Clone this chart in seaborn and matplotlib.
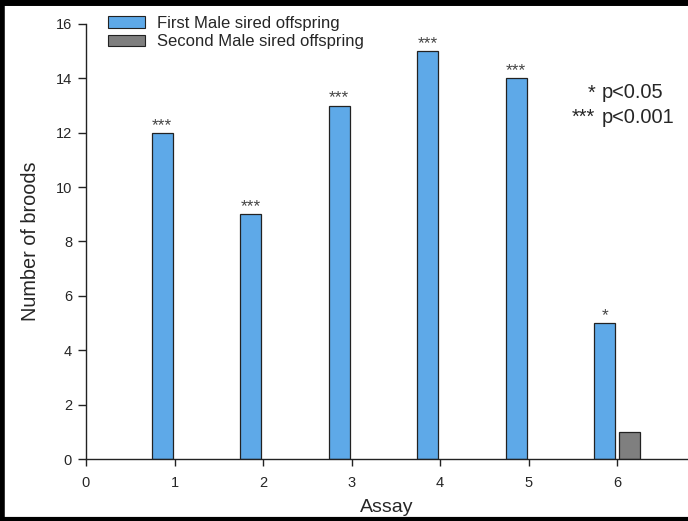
import matplotlib
matplotlib.use("Agg")
import matplotlib.pyplot as plt
import seaborn as sns
import pandas as pd
from matplotlib.patches import Rectangle

assays = [1, 2, 3, 4, 5, 6]
first_male = [12, 9, 13, 15, 14, 5]
second_male = [0, 0, 0, 0, 0, 1]
stars = ["***", "***", "***", "***", "***", "*"]
series = ["First Male sired offspring", "Second Male sired offspring"]
colors = ["#5EA9E8", "#7F7F7F"]
key_stars = ["*", "***"]
key_text = ["p<0.05", "p<0.001"]

rows = []
for a, v in zip(assays, first_male):
    rows.append({"Assay": a, "Broods": v, "Sire": series[0]})
for a, v in zip(assays, second_male):
    if v > 0:
        rows.append({"Assay": a, "Broods": v, "Sire": series[1]})
df = pd.DataFrame(rows)

sns.set_style("ticks")
plt.rcParams["font.family"] = ["Liberation Sans", "DejaVu Sans"]

fig = plt.figure(figsize=(6.88, 5.21), dpi=100)
ax = fig.add_axes([0.125, 0.119, 0.875, 0.835])

sns.barplot(data=df, x="Assay", y="Broods", hue="Sire", hue_order=series,
            palette=colors, native_scale=True, width=0.56, gap=0.16,
            edgecolor="#222222", linewidth=0.9, saturation=1, ax=ax,
            dodge=True)

ax.set_xlim(0, 6.8)
ax.set_ylim(0, 16)
ax.set_xticks([0, 1, 2, 3, 4, 5, 6])
ax.set_xticklabels(["0", "1", "2", "3", "4", "5", "6"])
ax.set_yticks(range(0, 17, 2))
for s in ["top", "right"]:
    ax.spines[s].set_visible(False)
for s in ["left", "bottom"]:
    ax.spines[s].set_linewidth(1.0)
    ax.spines[s].set_color("#222222")
ax.tick_params(axis="both", direction="out", width=1.0,
               labelsize=10.5, color="#222222")
ax.tick_params(axis="x", length=5, pad=7)
ax.tick_params(axis="y", length=6, pad=4)
ax.set_xlabel("Assay", fontsize=14, labelpad=7)
ax.set_ylabel("Number of broods", fontsize=14.3, labelpad=11)

# stars above first male bars
blue_rgb = matplotlib.colors.to_rgba(colors[0])
blue_bars = [p for p in ax.patches if isinstance(p, Rectangle) and p.get_height() > 0
             and abs(p.get_facecolor()[2] - blue_rgb[2]) < 0.02
             and abs(p.get_facecolor()[0] - blue_rgb[0]) < 0.02]
blue_bars = sorted(blue_bars, key=lambda p: p.get_x())
for p, st in zip(blue_bars, stars):
    ax.annotate(st, (p.get_x() + p.get_width() / 2, p.get_height()),
                xytext=(0, 0), textcoords="offset points", ha="center",
                va="bottom", fontsize=12.5, color="#444444")

ax.legend_.remove()
handles = [Rectangle((0, 0), 1, 1, facecolor=c, edgecolor="#222222", linewidth=0.8)
           for c in colors]
fig.legend(handles, series, loc="upper left", bbox_to_anchor=(0.148, 0.982),
           frameon=False, fontsize=12, handlelength=2.2, handleheight=0.72,
           labelspacing=0.2, handletextpad=0.7, borderaxespad=0)

for ys, st, tx in zip([0.8215, 0.7754], key_stars, key_text):
    fig.text(0.865, ys, st, ha="right", va="center", fontsize=14.4)
    fig.text(0.875, ys, tx, ha="left", va="center", fontsize=14.4)

# figure frame
fig.add_artist(plt.Line2D([0.003, 0.003], [0, 1], color="black", lw=4,
                          transform=fig.transFigure))
fig.add_artist(plt.Line2D([0, 1], [0.996, 0.996], color="black", lw=5,
                          transform=fig.transFigure))
fig.add_artist(plt.Line2D([0, 1], [0.003, 0.003], color="black", lw=3,
                          transform=fig.transFigure))

fig.savefig("out.png", dpi=100)
